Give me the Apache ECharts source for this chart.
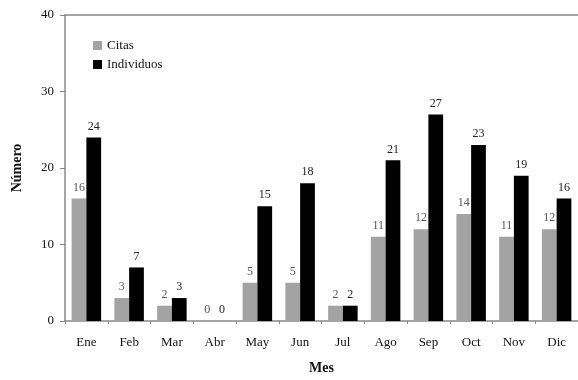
<!DOCTYPE html>
<html>
<head>
<meta charset="utf-8">
<script src="https://cdn.jsdelivr.net/npm/echarts@6/dist/echarts.min.js"></script>
<style>
  html, body { margin: 0; padding: 0; background: #fff; }
  #chart { width: 578px; height: 380px; }
</style>
</head>
<body>
<div id="chart"></div>
<script>
  // datos
  var meses = ['Ene', 'Feb', 'Mar', 'Abr', 'May', 'Jun', 'Jul', 'Ago', 'Sep', 'Oct', 'Nov', 'Dic'];
  var citas = [16, 3, 2, 0, 5, 5, 2, 11, 12, 14, 11, 12];
  var individuos = [24, 7, 3, 0, 15, 18, 2, 21, 27, 23, 19, 16];
  var yTicks = [0, 10, 20, 30, 40];

  var fuente = '"Liberation Serif", "DejaVu Serif", serif';
  var chart = echarts.init(document.getElementById('chart'));

  var option = {
    animation: false,
    textStyle: { fontFamily: fuente },
    grid: { left: 65, right: -7, top: 15, bottom: 55 },
    legend: {
      orient: 'vertical',
      left: 88,
      top: 34,
      icon: 'rect',
      itemWidth: 9,
      itemHeight: 9,
      itemGap: 6,
      textStyle: { fontFamily: fuente, fontSize: 13, color: '#111' },
      data: ['Citas', 'Individuos']
    },
    xAxis: [{
      type: 'category',
      data: meses,
      name: 'Mes',
      nameLocation: 'middle',
      nameGap: 40,
      nameTextStyle: { fontFamily: fuente, fontSize: 14, fontWeight: 'bold', color: '#111' },
      axisLine: { lineStyle: { color: '#888', width: 1.5 } },
      axisTick: { show: true, length: 3, lineStyle: { color: '#888' } },
      axisLabel: { fontFamily: fuente, fontSize: 13, color: '#111', margin: 15 }
    }, {
      type: 'category',
      position: 'top',
      data: meses,
      axisLine: { show: true, lineStyle: { color: '#888', width: 1.5 } },
      axisTick: { show: false },
      axisLabel: { show: false }
    }],
    yAxis: {
      type: 'value',
      min: 0,
      max: yTicks[yTicks.length - 1],
      interval: 10,
      name: 'Número',
      nameLocation: 'middle',
      nameGap: 41,
      nameTextStyle: { fontFamily: fuente, fontSize: 14, fontWeight: 'bold', color: '#111' },
      axisLine: { show: true, lineStyle: { color: '#888', width: 1.5 } },
      axisTick: { show: true, length: 5, lineStyle: { color: '#888' } },
      axisLabel: { fontFamily: fuente, fontSize: 13, color: '#111', margin: 11 },
      splitLine: { show: false }
    },
    series: [{
      name: 'Citas',
      type: 'bar',
      data: citas,
      barGap: '0%',
      barCategoryGap: '31%',
      itemStyle: { color: '#a3a3a3' },
      label: { show: true, position: 'top', distance: 5, fontFamily: fuente, fontSize: 12, color: '#555' }
    }, {
      name: 'Individuos',
      type: 'bar',
      data: individuos,
      itemStyle: { color: '#000' },
      label: { show: true, position: 'top', distance: 5, fontFamily: fuente, fontSize: 12, color: '#222' }
    }]
  };

  chart.setOption(option);
</script>
</body>
</html>
